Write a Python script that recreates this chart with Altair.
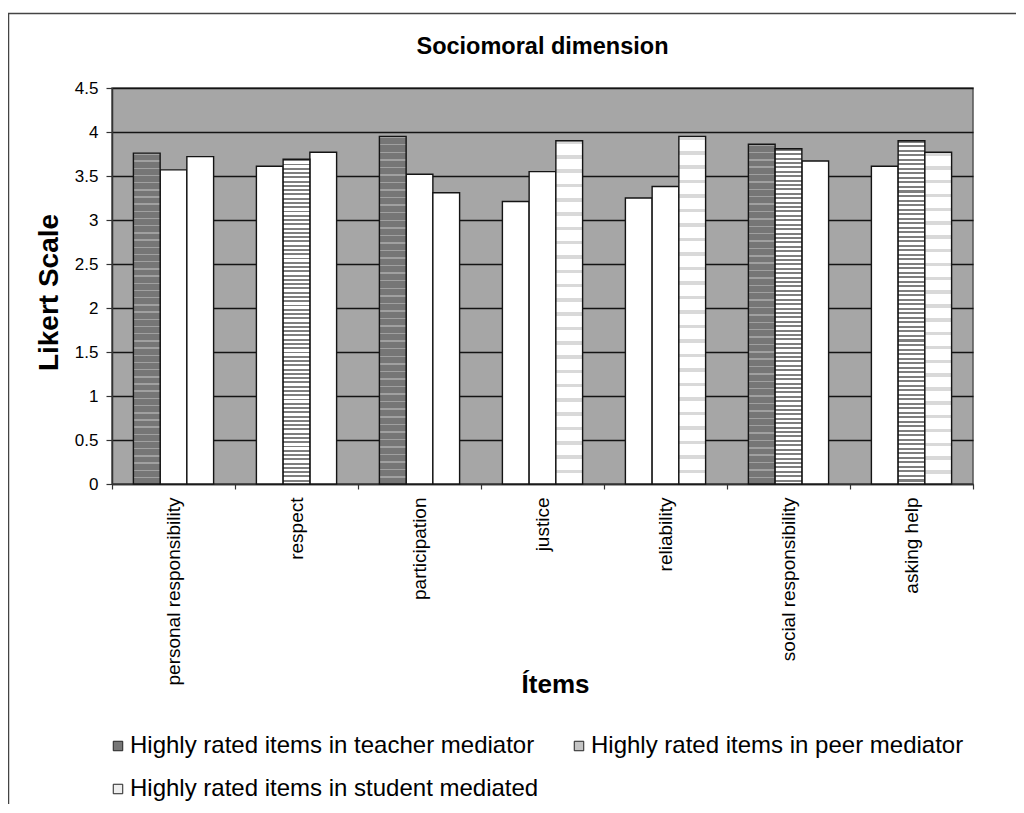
import altair as alt
import pandas as pd

items = ["personal responsibility", "respect", "participation", "justice",
         "reliability", "social responsibility", "asking help"]
series = ["Highly rated items in teacher mediator",
          "Highly rated items in peer mediator",
          "Highly rated items in student mediated"]
teacher = [3.76, 3.61, 3.95, 3.21, 3.25, 3.86, 3.61]
peer = [3.57, 3.69, 3.52, 3.55, 3.38, 3.81, 3.90]
student = [3.72, 3.77, 3.31, 3.90, 3.95, 3.67, 3.77]
teacher_high = [True, False, True, False, False, True, False]
peer_high = [False, True, False, False, False, True, True]
student_high = [False, False, False, True, True, False, True]
y_ticks = [0, 0.5, 1, 1.5, 2, 2.5, 3, 3.5, 4, 4.5]
chart_title = "Sociomoral dimension"

rows = []
for i, it in enumerate(items):
    for s, vals, hi, key in zip(series, [teacher, peer, student],
                                [teacher_high, peer_high, student_high],
                                ["teacher", "peer", "student"]):
        rows.append({"item": it, "series": s, "value": vals[i],
                     "style": key if hi[i] else "plain"})
df = pd.DataFrame(rows)


def stripes(base, line, periods, frac):
    stops = []
    for k in range(periods):
        a = k / periods
        b = (k + frac) / periods
        c = 1.0 if k == periods - 1 else (k + 1) / periods
        stops += [alt.GradientStop(offset=a, color=line),
                  alt.GradientStop(offset=b, color=line),
                  alt.GradientStop(offset=b, color=base),
                  alt.GradientStop(offset=c, color=base)]
    return alt.LinearGradient(gradient="linear", stops=stops, x1=0, x2=0, y1=0, y2=1)


fill_teacher = stripes("#767676", "#a0a0a0", 46, 0.2)
fill_peer = stripes("#ffffff", "#7e7e7e", 76, 0.45)
fill_student = stripes("#ffffff", "#d9d9d9", 24, 0.25)

FONT = "Liberation Sans"

x_enc = alt.X("item:N", sort=items,
              scale=alt.Scale(domain=items, paddingInner=0, paddingOuter=0),
              axis=alt.Axis(title="Ítems", labelAngle=270, labelAlign="right",
                            labelBaseline="middle", labelFontSize=19, labelFont=FONT,
                            labelColor="black", labelPadding=8, labelLimit=400,
                            tickBand="extent", tickSize=5, tickColor="#333333",
                            tickWidth=1.2, domainColor="#333333", domainWidth=1.5,
                            grid=False, titleFontSize=26, titleFont=FONT,
                            titleFontWeight="bold", titleColor="black",
                            titleX=443, titleY=208, titleBaseline="alphabetic",
                            titleAlign="center"))
xoff_enc = alt.XOffset("series:N", sort=series,
                       scale=alt.Scale(domain=series, paddingInner=0, paddingOuter=0.8))
y_enc = alt.Y("value:Q",
              scale=alt.Scale(domain=[0, 4.5], nice=False, zero=True),
              axis=alt.Axis(title="Likert Scale", values=y_ticks, format="~g",
                            labelFontSize=17, labelFont=FONT, labelColor="black",
                            labelPadding=8, tickSize=6, tickColor="#333333",
                            tickWidth=1.2, domainColor="#333333", domainWidth=1.5,
                            grid=True, gridColor="#141414", gridWidth=1.5,
                            titleFontSize=28, titleFont=FONT, titleFontWeight="bold",
                            titleColor="black", titleAngle=270, titleX=-55, titleY=204,
                            titleBaseline="alphabetic", titleAlign="center"))

base = alt.Chart(df).encode(x=x_enc, xOffset=xoff_enc, y=y_enc)
bar_style = dict(stroke="#141414", strokeWidth=1.4)

plain = base.transform_filter("datum.style == 'plain'").mark_bar(fill="#ffffff", **bar_style)
t_bars = base.transform_filter("datum.style == 'teacher'").mark_bar(fill=fill_teacher, **bar_style)
p_bars = base.transform_filter("datum.style == 'peer'").mark_bar(fill=fill_peer, **bar_style)
s_bars = base.transform_filter("datum.style == 'student'").mark_bar(fill=fill_student, **bar_style)

legend_layer = base.mark_bar(opacity=0).encode(
    fill=alt.Fill("series:N", sort=series,
                  scale=alt.Scale(domain=series, range=["#767676", "#c4c4c4", "#eeeeee"]),
                  legend=alt.Legend(title=None, orient="none", legendX=-6, legendY=646,
                                    columns=2, direction="horizontal",
                                    symbolType="square", symbolSize=90,
                                    symbolStrokeColor="#222222", symbolStrokeWidth=1,
                                    symbolOpacity=1, labelFontSize=24, labelFont=FONT,
                                    labelColor="black", labelLimit=1000, labelOffset=0,
                                    columnPadding=28, rowPadding=19))
)

title_layer = alt.Chart(pd.DataFrame({"t": [chart_title]})).mark_text(
    font=FONT, fontSize=23.5, fontWeight="bold", color="black",
    align="center", baseline="middle"
).encode(x=alt.value(430.5), y=alt.value(-41), text="t:N")

frame = alt.Chart(pd.DataFrame({"frame": [0]})).mark_rect(
    filled=False, stroke="#444444", strokeWidth=1.5
).encode(x=alt.value(-103.5), x2=alt.value(1300), y=alt.value(-74.5), y2=alt.value(1300))

chart = alt.layer(plain, t_bars, p_bars, s_bars, legend_layer, title_layer, frame).properties(
    width=861, height=396,
    autosize=alt.AutoSizeParams(type="none"),
    padding={"left": 104, "top": 80, "right": 43, "bottom": 320},
    background="white",
).configure_view(fill="#a6a6a6", stroke="#555555", strokeWidth=1.5)

chart.save("out.html", embed_options={"renderer": "svg", "actions": False})
